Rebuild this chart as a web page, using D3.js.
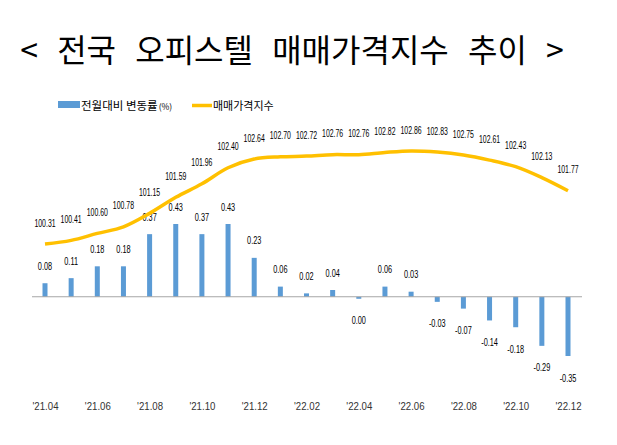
<!DOCTYPE html>
<html><head><meta charset="utf-8">
<script src="https://cdn.jsdelivr.net/npm/d3@7"></script>
<style>
body{margin:0;background:#fff;}
svg{display:block;}
</style>
</head><body>
<svg id="c" width="617" height="445"></svg>
<script>
const categories = ["'21.04","'21.05","'21.06","'21.07","'21.08","'21.09","'21.10","'21.11","'21.12","'22.01","'22.02","'22.03","'22.04","'22.05","'22.06","'22.07","'22.08","'22.09","'22.10","'22.11","'22.12"];
const changeRate = [0.08,0.11,0.18,0.18,0.37,0.43,0.37,0.43,0.23,0.06,0.02,0.04,0.00,0.06,0.03,-0.03,-0.07,-0.14,-0.18,-0.29,-0.35];
const priceIndex = [100.31,100.41,100.60,100.78,101.15,101.59,101.96,102.40,102.64,102.70,102.72,102.76,102.76,102.82,102.86,102.83,102.75,102.61,102.43,102.13,101.77];
const tickLabels = ["'21.04","'21.06","'21.08","'21.10","'21.12","'22.02","'22.04","'22.06","'22.08","'22.10","'22.12"];
const seriesNames = ["전월대비 변동률", "매매가격지수"];
const titleText = "< 전국 오피스텔 매매가격지수 추이 >";

const svg = d3.select("#c");
const barColor = "#5b9bd5", lineColor = "#ffc000";
const numFont = "'Liberation Sans', Arial, sans-serif";
const krFont = "'Noto Sans CJK KR', sans-serif";

const x = d3.scalePoint().domain(categories).range([45, 568]);
const yBar = d3.scaleLinear().domain([-0.35, 0.43]).range([356, 224]);
const yLine = d3.scaleLinear().domain([100.31, 102.86]).range([244, 151]);

// title
svg.append("text").attr("x", 292).attr("y", 62).attr("text-anchor", "middle")
  .attr("font-family", krFont).attr("font-size", 32)
  .attr("word-spacing", 12).attr("fill", "#000").text(titleText);

// legend
const lg = svg.append("g");
lg.append("rect").attr("x", 58).attr("y", 101).attr("width", 22).attr("height", 7).attr("fill", barColor);
const lt1 = lg.append("text").attr("x", 81).attr("y", 109.5)
  .attr("font-family", krFont).attr("font-size", 11.5).attr("fill", "#000");
lt1.append("tspan").text(seriesNames[0]);
lt1.append("tspan").attr("font-size", 8.5).attr("dx", 1).text("(%)");
lg.append("line").attr("x1", 192).attr("x2", 212).attr("y1", 105.5).attr("y2", 105.5)
  .attr("stroke", lineColor).attr("stroke-width", 3.5);
lg.append("text").attr("x", 213).attr("y", 109.5)
  .attr("font-family", krFont).attr("font-size", 11).attr("fill", "#000")
  .text(seriesNames[1]);

// bars
const bw = 5;
const y0 = yBar(0);
svg.append("g").selectAll("rect").data(changeRate).join("rect")
  .attr("x", (d, i) => x(categories[i]) - bw / 2)
  .attr("width", bw)
  .attr("y", d => d > 0 ? yBar(d) : y0)
  .attr("height", d => Math.max(2, Math.abs(yBar(d) - y0)))
  .attr("fill", barColor);

// zero axis line
svg.append("line").attr("x1", 32).attr("x2", 582).attr("y1", y0).attr("y2", y0)
  .attr("stroke", "#a6a6a6").attr("stroke-width", 1.2);

// bar labels (horizontally condensed via transform)
svg.append("g").selectAll("text").data(changeRate).join("text")
  .attr("transform", d => `translate(${0},${d > 0 ? yBar(d) - 13.5 : Math.max(yBar(d), y0 + 2) + 25.5})`)
  .each(function (d, i) {
    const t = d3.select(this);
    const ty = d > 0 ? yBar(d) - 13.5 : Math.max(yBar(d), y0 + 2) + 25.5;
    t.attr("transform", `translate(${x(categories[i])},${ty}) scale(0.7,1)`);
  })
  .attr("text-anchor", "middle").attr("font-family", numFont).attr("font-size", 10.5).attr("fill", "#000")
  .text(d => d.toFixed(2));

// line
const line = d3.line().x((d, i) => x(categories[i])).y(d => yLine(d)).curve(d3.curveCatmullRom.alpha(0.5));
svg.append("path").datum(priceIndex).attr("d", line)
  .attr("fill", "none").attr("stroke", lineColor).attr("stroke-width", 3.5);

// line labels
svg.append("g").selectAll("text").data(priceIndex).join("text")
  .attr("transform", (d, i) => `translate(${x(categories[i])},${yLine(d) - 17.5}) scale(0.66,1)`)
  .attr("text-anchor", "middle").attr("font-family", numFont).attr("font-size", 10.5).attr("fill", "#000")
  .text(d => d.toFixed(2));

// x axis labels
const xAxis = d3.axisBottom(x).tickValues(tickLabels).tickSize(0).tickPadding(0);
const gx = svg.append("g").attr("transform", "translate(0,402)").call(xAxis);
gx.select(".domain").remove();
gx.selectAll("text").attr("font-size", 11.5).attr("fill", "#333").attr("font-family", numFont)
  .attr("transform", "scale(0.84,1)");
</script>
</body></html>
